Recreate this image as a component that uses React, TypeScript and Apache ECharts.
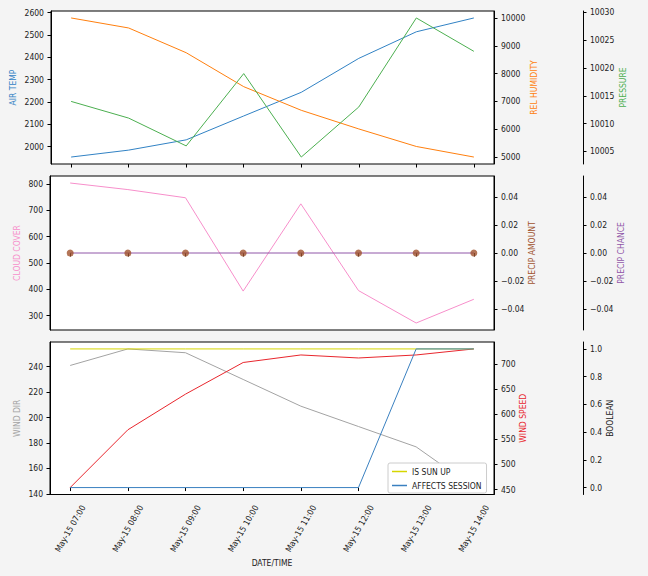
import React, { useEffect, useRef } from "react";
import * as echarts from "echarts";

const TIMES = [
  "May-15 07:00",
  "May-15 08:00",
  "May-15 09:00",
  "May-15 10:00",
  "May-15 11:00",
  "May-15 12:00",
  "May-15 13:00",
  "May-15 14:00",
];
const AIR_TEMP = [1953, 1984, 2030, 2137, 2243, 2395, 2514, 2576];
const REL_HUMIDITY = [10000, 9640, 8750, 7530, 6680, 6010, 5380, 5000];
const PRESSURE = [10014, 10011, 10006, 10019, 10004, 10013, 10029, 10023];
const CLOUD_COVER = [803, 778, 747, 393, 724, 395, 272, 362];
const PRECIP_AMOUNT = [0, 0, 0, 0, 0, 0, 0, 0];
const PRECIP_CHANCE = [0, 0, 0, 0, 0, 0, 0, 0];
const WIND_DIR = [241, 254, 251, 230, 209, 193, 177, 145];
const WIND_SPEED = [454, 569, 640, 703, 718, 712, 718, 730];
const IS_SUN_UP = [1, 1, 1, 1, 1, 1, 1, 1];
const AFFECTS_SESSION = [0, 0, 0, 0, 0, 0, 1, 1];

const TICKS_AIR = [2000, 2100, 2200, 2300, 2400, 2500, 2600];
const TICKS_HUM = [5000, 6000, 7000, 8000, 9000, 10000];
const TICKS_PRES = [10005, 10010, 10015, 10020, 10025, 10030];
const TICKS_CLOUD = [300, 400, 500, 600, 700, 800];
const TICKS_PRECIP = [-0.04, -0.02, 0, 0.02, 0.04];
const TICKS_WDIR = [140, 160, 180, 200, 220, 240];
const TICKS_WSPD = [450, 500, 550, 600, 650, 700];
const TICKS_BOOL = [0, 0.2, 0.4, 0.6, 0.8, 1.0];

const FONT = "'DejaVu Sans Condensed', 'DejaVu Sans', sans-serif";
const C = {
  air: "#3182c4",
  hum: "#ff7f0e",
  pres: "#4caf50",
  cloud: "#f78fcb",
  pamt: "#a0522d",
  pch: "#9056a8",
  wdir: "#a3a3a3",
  wspd: "#e8262d",
  sun: "#d6d600",
  aff: "#3a80c0",
};

function pad(arr: number[]): [number, number] {
  const mn = Math.min(...arr);
  const mx = Math.max(...arr);
  if (mx === mn) {
    const d = mn === 0 ? 0.055 : Math.abs(mn) * 0.055;
    return [mn - d, mx + d];
  }
  const r = mx - mn;
  return [mn - 0.05 * r, mx + 0.05 * r];
}

function fmtPrecip(v: number) {
  const s = Math.abs(v).toFixed(2);
  return v < -1e-9 ? "\u2212" + s : s;
}

export default function App() {
  const ref = useRef<HTMLDivElement>(null);
  useEffect(() => {
    if (!ref.current) return;
    const chart = echarts.init(ref.current, undefined, { renderer: "svg" });
    const L = 50;
    const R = 648 - 494;
    const grids = [
      { left: L, right: R, top: 11, height: 153 },
      { left: L, right: R, top: 176, height: 154 },
      { left: L, right: R, top: 342, height: 152.5 },
    ].map((g) => ({
      ...g,
      show: true,
      backgroundColor: "#ffffff",
      borderColor: "#000000",
      borderWidth: 1,
      containLabel: false,
    }));

    const xIdx = [0, 1, 2, 3, 4, 5, 6, 7];
    const xAxes = [0, 1, 2].map((i) => ({
      type: "value",
      gridIndex: i,
      min: -0.35,
      max: 7.35,
      axisLine: { show: false },
      splitLine: { show: false },
      axisTick: {
        show: true,
        length: 3.5,
        customValues: xIdx,
        lineStyle: { color: "#000" },
      },
      axisLabel: {
        show: i === 2,
        customValues: xIdx,
        rotate: 60,
        align: "center",
        verticalAlign: "middle",
        margin: 34,
        fontSize: 8.5,
        fontFamily: FONT,
        color: "#222",
        formatter: (v: number) => TIMES[Math.round(v)] ?? "",
      },
      name: i === 2 ? "DATE/TIME" : "",
      nameLocation: "middle",
      nameGap: 64,
      nameMoveOverlap: false,
      nameTextStyle: { fontSize: 8.5, fontFamily: FONT, color: "#222" },
    }));

    const yAxis = (
      grid: number,
      side: "left" | "right",
      offset: number,
      range: [number, number],
      ticks: number[],
      name: string,
      nameColor: string,
      nameGap: number,
      fmt?: (v: number) => string
    ) => ({
      type: "value",
      gridIndex: grid,
      position: side,
      offset,
      min: range[0],
      max: range[1],
      name,
      nameLocation: "middle",
      nameRotate: 90,
      nameGap,
      nameMoveOverlap: false,
      nameTextStyle: { color: nameColor, fontSize: 8.5, fontFamily: FONT },
      axisLine: { show: true, onZero: false, lineStyle: { color: "#000", width: 1 } },
      splitLine: { show: false },
      axisTick: {
        show: true,
        length: 3.5,
        customValues: ticks,
        lineStyle: { color: "#000" },
      },
      axisLabel: {
        customValues: ticks,
        fontSize: 8.5,
        fontFamily: FONT,
        color: "#222",
        margin: 7,
        formatter: fmt ?? ((v: number) => String(Math.round(v))),
      },
    });

    const OFF = 89;
    const yAxes = [
      yAxis(0, "left", 0, pad(AIR_TEMP), TICKS_AIR, "AIR TEMP", C.air, 34),
      yAxis(0, "right", 0, pad(REL_HUMIDITY), TICKS_HUM, "REL HUMIDITY", C.hum, 35.5),
      yAxis(0, "right", OFF, pad(PRESSURE), TICKS_PRES, "PRESSURE", C.pres, 35),
      yAxis(1, "left", 0, pad(CLOUD_COVER), TICKS_CLOUD, "CLOUD COVER", C.cloud, 29),
      yAxis(1, "right", 0, pad(PRECIP_AMOUNT), TICKS_PRECIP, "PRECIP AMOUNT", C.pamt, 33.5, fmtPrecip),
      yAxis(1, "right", OFF, pad(PRECIP_CHANCE), TICKS_PRECIP, "PRECIP CHANCE", C.pch, 33.5, fmtPrecip),
      yAxis(2, "left", 0, pad(WIND_DIR), TICKS_WDIR, "WIND DIR", C.wdir, 29),
      yAxis(2, "right", 0, pad(WIND_SPEED), TICKS_WSPD, "WIND SPEED", C.wspd, 24.5),
      yAxis(2, "right", OFF, pad([...IS_SUN_UP, ...AFFECTS_SESSION]), TICKS_BOOL, "BOOLEAN", "#222", 22.5, (v: number) => v.toFixed(1)),
    ];

    const line = (name: string, data: number[], xi: number, yi: number, color: string, z = 2) => ({
      type: "line",
      name,
      xAxisIndex: xi,
      yAxisIndex: yi,
      data: data.map((v, i) => [i, v]),
      showSymbol: false,
      symbol: "none",
      color,
      lineStyle: { color, width: 1 },
      z,
      silent: true,
    });

    const series: any[] = [
      line("AIR TEMP", AIR_TEMP, 0, 0, C.air),
      line("REL HUMIDITY", REL_HUMIDITY, 0, 1, C.hum),
      line("PRESSURE", PRESSURE, 0, 2, C.pres),
      line("CLOUD COVER", CLOUD_COVER, 1, 3, C.cloud),
      line("PRECIP CHANCE", PRECIP_CHANCE, 1, 5, C.pch, 3),
      {
        type: "scatter",
        name: "PRECIP AMOUNT",
        xAxisIndex: 1,
        yAxisIndex: 4,
        data: PRECIP_AMOUNT.map((v, i) => [i, v]),
        symbol: "circle",
        symbolSize: 7,
        itemStyle: { color: C.pamt },
        z: 4,
        silent: true,
      },
      line("WIND DIR", WIND_DIR, 2, 6, C.wdir),
      line("WIND SPEED", WIND_SPEED, 2, 7, C.wspd),
      line("IS SUN UP", IS_SUN_UP, 2, 8, C.sun),
      line("AFFECTS SESSION", AFFECTS_SESSION, 2, 8, C.aff),
    ];

    chart.setOption({
      animation: false,
      backgroundColor: "#f4f4f4",
      textStyle: { fontFamily: FONT },
      grid: grids,
      xAxis: xAxes,
      yAxis: yAxes,
      legend: {
        data: [
          { name: "IS SUN UP", icon: "rect" },
          { name: "AFFECTS SESSION", icon: "rect" },
        ],
        orient: "vertical",
        left: 388,
        top: 463,
        itemWidth: 15,
        itemHeight: 1.5,
        itemGap: 5,
        padding: [4, 5, 3, 4],
        backgroundColor: "#ffffff",
        borderColor: "#cccccc",
        borderWidth: 1,
        borderRadius: 2,
        textStyle: { fontSize: 8.5, fontFamily: FONT, color: "#222" },
        selectedMode: false,
      },
      series,
    });
    return () => chart.dispose();
  }, []);
  return (
    <div
      ref={ref}
      style={{ position: "fixed", left: 0, top: 0, width: 648, height: 576 }}
    />
  );
}
